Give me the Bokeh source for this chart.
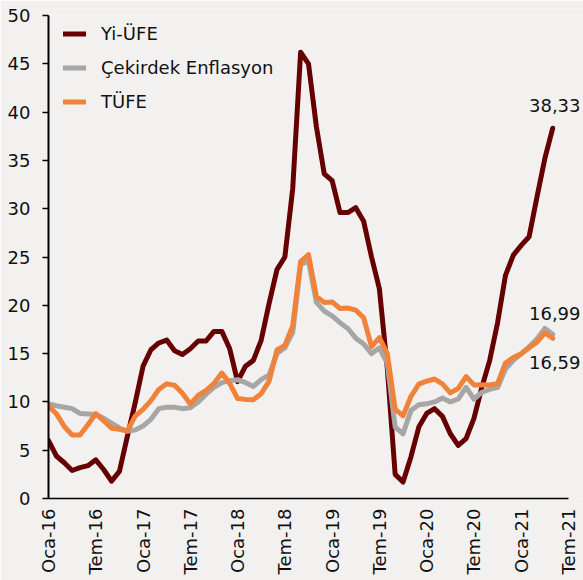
import math
from bokeh.plotting import figure
from bokeh.models import Range1d, FixedTicker, Legend, LegendItem, Label
from bokeh.embed import file_html
from bokeh.resources import INLINE

# Monthly data, Oca-16 .. May-21
yi_ufe = [6.0, 4.4, 3.7, 2.9, 3.2, 3.4, 4.0, 3.0, 1.8, 2.8, 6.4, 9.9,
          13.7, 15.4, 16.1, 16.4, 15.3, 14.9, 15.5, 16.3, 16.3, 17.3, 17.3, 15.5,
          12.1, 13.7, 14.3, 16.4, 20.2, 23.7, 25.0, 32.1, 46.2, 45.0, 38.5, 33.6,
          32.9, 29.6, 29.6, 30.1, 28.7, 25.0, 21.7, 13.5, 2.5, 1.7, 4.3, 7.4,
          8.8, 9.3, 8.5, 6.7, 5.5, 6.2, 8.3, 11.5, 14.3, 18.2, 23.1, 25.2,
          26.2, 27.1, 31.2, 35.2, 38.33]
cekirdek = [9.8, 9.6, 9.45, 9.3, 8.8, 8.75, 8.7, 8.3, 7.8, 7.3, 6.95, 7.1,
            7.5, 8.2, 9.3, 9.45, 9.45, 9.3, 9.4, 10.0, 10.8, 11.5, 12.0, 12.2,
            12.3, 12.0, 11.6, 12.3, 12.8, 15.0, 15.6, 17.2, 24.2, 24.6, 20.3, 19.4,
            18.9, 18.2, 17.6, 16.6, 16.0, 15.0, 15.6, 14.0, 7.4, 6.7, 9.1, 9.7,
            9.8, 10.0, 10.4, 10.0, 10.3, 11.5, 10.3, 11.0, 11.3, 11.5, 13.4, 14.3,
            15.0, 15.7, 16.5, 17.6, 16.99]
tufe = [9.58, 8.78, 7.46, 6.57, 6.58, 7.64, 8.79, 8.05, 7.28, 7.16, 7.00, 8.53,
        9.22, 10.13, 11.29, 11.87, 11.72, 10.90, 9.79, 10.68, 11.20, 11.90, 12.98, 11.92,
        10.35, 10.26, 10.23, 10.85, 12.15, 15.39, 15.85, 17.90, 24.52, 25.24, 20.9, 20.30,
        20.35, 19.67, 19.71, 19.50, 18.71, 15.72, 16.65, 15.01, 9.26, 8.55, 10.56, 11.84,
        12.15, 12.37, 11.86, 10.94, 11.39, 12.62, 11.76, 11.77, 11.75, 11.89, 14.03, 14.60,
        14.97, 15.61, 16.19, 17.14, 16.59]
tick_labels = ["Oca-16", "Tem-16", "Oca-17", "Tem-17", "Oca-18", "Tem-18",
               "Oca-19", "Tem-19", "Oca-20", "Tem-20", "Oca-21", "Tem-21"]
series_names = ["Yi-ÜFE", "Çekirdek Enflasyon", "TÜFE"]

x = list(range(len(yi_ufe)))
tick_pos = [6 * i for i in range(len(tick_labels))]

FONT = "DejaVu Sans"
BG = "#f2f1f0"
colors = ["#660000", "#a6a6a6", "#f0823a"]

W, H = 583, 580
LEFT = 48
AXIS_PX = 520          # pixel length of the drawn x axis
frame_w = W - LEFT
x_end = tick_pos[-1] * frame_w / AXIS_PX

p = figure(width=W, height=H, output_backend="svg", toolbar_location=None,
           x_range=Range1d(0, x_end), y_range=Range1d(0, 50),
           min_border_left=LEFT, min_border_right=0, min_border_top=15, min_border_bottom=82)
p.background_fill_color = BG
p.border_fill_color = BG
p.outline_line_color = None
p.grid.grid_line_color = None

# x axis
p.xaxis.ticker = FixedTicker(ticks=tick_pos)
p.xaxis.bounds = (0, tick_pos[-1])
p.xaxis.major_label_overrides = {t: l for t, l in zip(tick_pos, tick_labels)}
p.xaxis.major_label_orientation = math.pi / 2
p.xaxis.major_tick_line_color = None
p.xaxis.minor_tick_line_color = None
p.xaxis.major_tick_out = 0
p.xaxis.major_tick_in = 0
p.xaxis.major_label_standoff = 10
p.xaxis.axis_line_color = "black"
p.xaxis.axis_line_width = 1.5

# y axis
p.yaxis.ticker = FixedTicker(ticks=list(range(0, 51, 5)))
p.yaxis.minor_tick_line_color = None
p.yaxis.major_tick_out = 6
p.yaxis.major_tick_in = 0
p.yaxis.major_tick_line_color = "black"
p.yaxis.major_tick_line_width = 1.5
p.yaxis.major_label_standoff = 12
p.yaxis.axis_line_color = "black"
p.yaxis.axis_line_width = 2

for ax in (p.xaxis, p.yaxis):
    ax.major_label_text_font = FONT
    ax.major_label_text_font_size = "18px"
    ax.major_label_text_color = "#111111"

series = [yi_ufe, cekirdek, tufe]
renderers = []
for ys, c in zip(series, colors):
    r = p.line(x, ys, line_color=c, line_width=5, line_join="round", line_cap="round")
    renderers.append(r)

items = [LegendItem(label=name, renderers=[r]) for name, r in zip(series_names, renderers)]
legend = Legend(items=items, location=(15, 386), orientation="vertical",
                padding=0, margin=0, spacing=13, glyph_width=23, glyph_height=21,
                label_height=21, label_standoff=15,
                label_text_font=FONT, label_text_font_size="18px",
                label_text_color="#111111",
                background_fill_alpha=0, border_line_color=None)
p.add_layout(legend, "center")

def fmt(v):
    return f"{v:.2f}".replace(".", ",")

last = x[-1]
for ys, off in [(yi_ufe, 23), (cekirdek, 21), (tufe, -24)]:
    p.add_layout(Label(x=last, y=ys[-1], text=fmt(ys[-1]), x_offset=2, y_offset=off,
                       text_align="center", text_baseline="middle",
                       text_font=FONT, text_font_size="18px", text_color="#111111"))

open("out.html", "w").write(file_html(p, INLINE))
